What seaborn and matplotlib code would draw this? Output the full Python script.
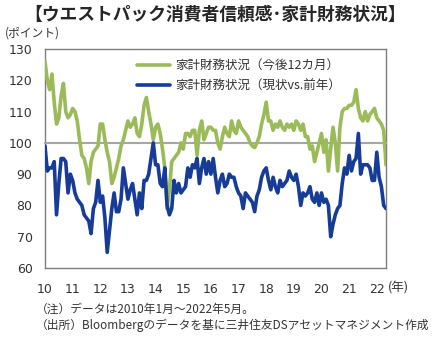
import matplotlib
matplotlib.use("Agg")
import matplotlib.pyplot as plt
import pandas as pd
import seaborn as sns

# Westpac consumer confidence: household finances, monthly, Jan 2010 - May 2022
start_year = 2010
year_ticks = list(range(2010, 2023))
year_labels = [str(y)[2:] for y in year_ticks]
y_ticks = [60, 70, 80, 90, 100, 110, 120, 130]

name_outlook = "家計財務状況（今後12カ月）"
name_current = "家計財務状況（現状vs.前年）"

outlook_12m = [
    126, 120, 117, 122, 113, 106, 108, 115, 119, 110, 108, 109,   # 2010
    111, 110, 107, 101, 96, 95, 92, 87, 94, 97, 98, 99,            # 2011
    106, 106, 101, 97, 94, 87, 89, 92, 95, 99, 101, 104,           # 2012
    107, 105, 106, 108, 103, 102, 106, 112, 114.5, 110, 106, 101,  # 2013
    105, 106, 103, 98, 92, 79, 85, 94, 95, 96, 97, 100,            # 2014
    98, 103, 103, 102, 104, 104, 96, 104, 107, 101, 103, 105,      # 2015
    105, 104, 104, 100, 98, 102, 105, 103, 102, 107, 104, 103,     # 2016
    107, 105, 104, 103, 102, 100, 99, 98.5, 100, 102, 106, 109,    # 2017
    113, 107, 107, 104, 106, 105, 107, 105, 104, 106, 105, 106,    # 2018
    104, 107, 106, 104, 106, 102, 102, 98, 99, 94, 97, 100,        # 2019
    103, 97, 101, 91, 98, 105, 100, 91, 105, 110, 111, 111,        # 2020
    112, 112, 113, 117, 111, 108, 107, 110, 107, 109, 110, 111,    # 2021
    108, 107, 106, 104, 93,                                        # 2022
]

current_vs_prev = [
    99, 91, 92, 92, 94, 77, 87, 95, 95, 94, 84, 90,     # 2010
    88, 84, 82, 81, 80, 77, 76, 75, 71, 79, 81, 88,     # 2011
    81, 83, 76, 65, 72, 79, 84, 78, 78, 82, 92, 87,     # 2012
    82, 85, 87, 82, 77, 84, 79, 88, 88, 90, 95, 100,    # 2013
    93, 93, 87, 86, 92, 80, 77, 79, 88, 84, 87, 84,     # 2014
    85, 86, 92, 89, 93, 92, 95, 87, 92, 95, 90, 94,     # 2015
    90, 95, 89, 84, 88, 90, 86, 87, 90, 89, 89, 86,     # 2016
    84, 83, 79, 84, 83, 82, 81, 78, 83, 85, 89, 91,     # 2017
    92, 88, 85, 89, 86, 84, 88, 86, 87, 88, 91, 89,     # 2018
    88, 90, 86, 80, 84, 83, 84, 86, 82, 81, 84, 80,     # 2019
    84, 81, 82, 80, 70, 74, 77, 79, 80, 87, 92, 90,     # 2020
    96, 91, 94, 95, 103, 90, 93, 93, 93, 92, 88, 88,    # 2021
    97, 89, 86, 80, 79,                                 # 2022
]

green = "#9bbb59"
navy = "#173c98"
text_col = "#333333"
frame_col = "#7f7f7f"

months = range(len(outlook_12m))
t = [start_year + m / 12 for m in months]
df = pd.concat([
    pd.DataFrame({"t": t, "value": outlook_12m, "series": name_outlook}),
    pd.DataFrame({"t": t, "value": current_vs_prev, "series": name_current}),
])

sns.set_style("white")
plt.rcParams["font.family"] = ["Noto Sans CJK JP", "DejaVu Sans"]

fig = plt.figure(figsize=(4.32, 3.49), dpi=100)
fig.patch.set_facecolor("white")
W, H = 432, 349
ax = fig.add_axes([45 / W, 1 - 268 / H, (386 - 45) / W, (268 - 49) / H])

sns.lineplot(data=df, x="t", y="value", hue="series",
             palette={name_outlook: green, name_current: navy},
             linewidth=2.6, ax=ax, legend=False, zorder=3)

ax.set_xlim(t[0], t[-1])
ax.set_ylim(60, 130)
ax.set_yticks(y_ticks)
ax.set_xlabel("")
ax.set_ylabel("")
for side in ["left", "right", "top"]:
    ax.spines[side].set_color(frame_col)
    ax.spines[side].set_linewidth(1.0)

# horizontal axis crosses at 100 with small year ticks pointing up
ax.spines["bottom"].set_position(("data", 100))
ax.spines["bottom"].set_color("#a6a6a6")
ax.spines["bottom"].set_linewidth(1.5)
ax.set_xticks(year_ticks)
ax.tick_params(axis="x", direction="in", length=4, width=1, color="#a6a6a6",
               labelbottom=False)
ax.tick_params(axis="y", length=0, pad=9, labelsize=9, labelcolor=text_col)
for lab in ax.get_yticklabels():
    lab.set_fontfamily("DejaVu Sans")

# year labels along the bottom frame
sec = ax.secondary_xaxis("bottom")
sec.set_xticks(year_ticks, labels=year_labels)
sec.tick_params(length=0, pad=11, labelsize=9, labelcolor=text_col)
sec.spines["bottom"].set_color(frame_col)
sec.spines["bottom"].set_linewidth(1.0)
for lab in sec.get_xticklabels():
    lab.set_fontfamily("DejaVu Sans")

handles = [plt.Line2D([], [], color=green, lw=2.6),
           plt.Line2D([], [], color=navy, lw=2.6)]
ax.legend(handles, [name_outlook, name_current], loc="upper left",
          bbox_to_anchor=((137 - 45) / 341, (268 - 59) / 219),
          frameon=False, fontsize=9, handlelength=2.6, handletextpad=0.45,
          labelspacing=0.62, borderpad=0, borderaxespad=0,
          labelcolor=text_col)

fig.text(215 / W, 1 - 15 / H, "【ウエストパック消費者信頼感･家計財務状況】",
         ha="center", va="center", fontsize=12.8, fontweight="bold",
         color="#262626")
fig.text(5 / W, 1 - 33 / H, "(ポイント)", ha="left", va="center",
         fontsize=8.5, color=text_col)
fig.text(388 / W, 1 - 288 / H, "(年)", ha="left", va="center",
         fontsize=9, color=text_col)
fig.text(36 / W, 1 - 309 / H, "（注）データは2010年1月～2022年5月。",
         ha="left", va="center", fontsize=8.45, color=text_col)
fig.text(36 / W, 1 - 325 / H,
         "（出所）Bloombergのデータを基に三井住友DSアセットマネジメント作成",
         ha="left", va="center", fontsize=8.45, color=text_col)

fig.savefig("out.png", dpi=100, facecolor="white")
